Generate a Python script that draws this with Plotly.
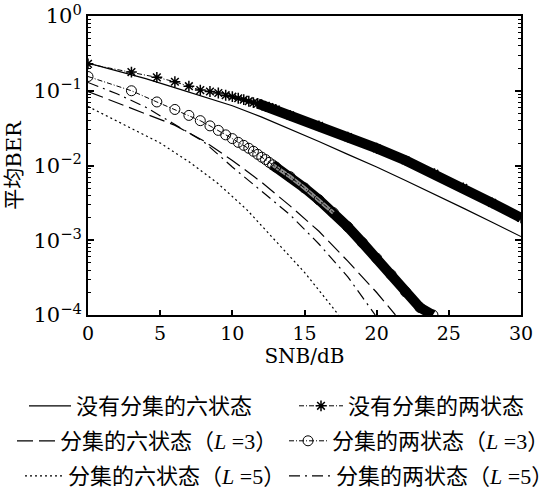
import plotly.graph_objects as go

# ---------------- data (BER vs SNR in dB) ----------------
# six-state, no diversity (solid)
six_nodiv_x = [0, 2, 4, 6, 8, 10, 12, 14, 16, 18, 20, 22, 24, 26, 28, 30]
six_nodiv = [0.234, 0.186, 0.145, 0.110, 0.0832, 0.0631, 0.0447, 0.0309, 0.0209,
             0.0141, 0.00955, 0.00631, 0.00417, 0.00269, 0.00174, 0.00112]

# two-state, no diversity (asterisk markers)
two_nodiv_x = [0, 3.01, 4.77, 6.02, 6.99, 7.78, 8.45, 9.03, 9.54, 10.0, 10.41, 10.79,
               11.14, 11.46, 11.76, 12.04, 12.30, 12.55, 12.79, 13.01, 14, 16, 18, 20,
               22, 24, 26, 28, 30]
two_nodiv = [0.229, 0.178, 0.151, 0.132, 0.115, 0.102, 0.0977, 0.0933, 0.0871, 0.0832,
             0.0794, 0.0759, 0.0724, 0.0692, 0.0676, 0.0646, 0.0617, 0.0603, 0.0575,
             0.0562, 0.0468, 0.0339, 0.0240, 0.0170, 0.0117, 0.00776, 0.00501,
             0.00316, 0.00200]

# six-state, diversity L=3 (long dash)
six_l3_x = [0, 2, 4, 6, 8, 10, 12, 14, 16, 18, 20, 21.3]
six_l3 = [0.0977, 0.0692, 0.0501, 0.0347, 0.0214, 0.0117, 0.00603, 0.00288,
          0.00132, 0.000525, 0.000200, 0.0001]

# two-state, diversity L=3 (circle markers)
two_l3_x = [0, 3.01, 4.77, 6.02, 6.99, 7.78, 8.45, 9.03, 9.54, 10.0, 10.41, 10.79,
            11.14, 11.46, 11.76, 12.04, 12.30, 12.55, 12.79, 13.01, 14, 15, 16, 17,
            18, 19, 20, 21, 22, 23, 23.9]
two_l3 = [0.155, 0.100, 0.0708, 0.0562, 0.0468, 0.0398, 0.0339, 0.0295, 0.0257,
          0.0229, 0.0204, 0.0186, 0.0170, 0.0155, 0.0141, 0.0129, 0.0120, 0.0110,
          0.0102, 0.00955, 0.00708, 0.00501, 0.00347, 0.00234, 0.00151, 0.000933,
          0.000575, 0.000347, 0.000204, 0.000126, 0.0001]

# six-state, diversity L=5 (dotted)
six_l5_x = [0, 3, 5, 7, 9, 11, 13, 15, 17, 17.35]
six_l5 = [0.0617, 0.0316, 0.0200, 0.0112, 0.00575, 0.00257, 0.000977, 0.000372,
          0.000123, 0.0001]

# two-state, diversity L=5 (dash-dot)
two_l5_x = [0, 2, 4, 6, 8, 10, 12, 14, 16, 18, 19.9]
two_l5 = [0.129, 0.0912, 0.0603, 0.0355, 0.0209, 0.00955, 0.00457, 0.00219,
          0.000891, 0.000324, 0.0001]

names = [
    "没有分集的六状态",
    "没有分集的两状态",
    "分集的六状态（<i>L</i> =3）",
    "分集的两状态（<i>L</i> =3）",
    "分集的六状态（<i>L</i> =5）",
    "分集的两状态（<i>L</i> =5）",
]

x_ticks = [0, 5, 10, 15, 20, 25, 30]
y_ticks = [1e-4, 1e-3, 1e-2, 1e-1, 1]
y_ticktext = ["10<sup>−4</sup>", "10<sup>−3</sup>", "10<sup>−2</sup>",
              "10<sup>−1</sup>", "10<sup>0</sup>"]

STAR_BAND_FROM = 14   # index where asterisks merge into a solid band
CIRC_BAND_FROM = 18
CIRC_LIGHT_TO = 24

BLACK = "black"
SERIF = "DejaVu Serif, Noto Sans CJK SC"
LEG_FONT = "Liberation Serif, Noto Sans CJK SC"

# plot-area geometry in page px: x 88..521, y 16..315
W, H = 555, 496
L_M, T_M = 88, 16
PW, PH = 521 - 88, 315 - 16
R_M, B_M = W - L_M - PW, H - T_M - PH


def px_x(px):
    return (px - L_M) / PW


def px_y(py):
    return (T_M + PH - py) / PH


fig = go.Figure()

# dense marker bands (markers overlapping into a solid band)
fig.add_trace(go.Scatter(x=two_nodiv_x[STAR_BAND_FROM:], y=two_nodiv[STAR_BAND_FROM:],
                         mode="lines", line=dict(color=BLACK, width=10),
                         showlegend=False, hoverinfo="skip"))
fig.add_trace(go.Scatter(x=two_l3_x[CIRC_BAND_FROM:], y=two_l3[CIRC_BAND_FROM:],
                         mode="lines", line=dict(color=BLACK, width=10),
                         showlegend=False, hoverinfo="skip"))
fig.add_trace(go.Scatter(x=two_l3_x[CIRC_BAND_FROM:CIRC_LIGHT_TO],
                         y=two_l3[CIRC_BAND_FROM:CIRC_LIGHT_TO],
                         mode="lines", line=dict(color="#8c8c8c", width=4),
                         showlegend=False, hoverinfo="skip"))

styles = [
    dict(x=six_nodiv_x, y=six_nodiv, mode="lines",
         line=dict(color=BLACK, width=1.2)),
    dict(x=two_nodiv_x, y=two_nodiv, mode="lines+markers",
         line=dict(color=BLACK, width=1, dash="5px,2px,1px,2px"),
         marker=dict(symbol="asterisk-open", size=9, line=dict(color=BLACK, width=1.5))),
    dict(x=six_l3_x, y=six_l3, mode="lines",
         line=dict(color=BLACK, width=1.2, dash="16px,6px")),
    dict(x=two_l3_x, y=two_l3, mode="lines+markers",
         line=dict(color=BLACK, width=1, dash="5px,2px,1px,2px"),
         marker=dict(symbol="circle-open", size=10, line=dict(color=BLACK, width=1))),
    dict(x=six_l5_x, y=six_l5, mode="lines",
         line=dict(color=BLACK, width=1.2, dash="2px,3px")),
    dict(x=two_l5_x, y=two_l5, mode="lines",
         line=dict(color=BLACK, width=1.2, dash="11px,5px,2px,5px")),
]

# legend placement in page px: (left, row centre, symbol width)
leg_pos = [(24, 406, 42), (294, 406, 44),
           (12, 441, 38), (284, 441, 38),
           (20, 476, 38), (284, 476, 42)]

layout_legends = {}
for i, (st, nm, (lx, ly, iw)) in enumerate(zip(styles, names, leg_pos)):
    key = "legend" if i == 0 else f"legend{i + 1}"
    fig.add_trace(go.Scatter(name=nm, legend=key, **st))
    layout_legends[key] = dict(
        x=px_x(lx), y=px_y(ly), xanchor="left", yanchor="middle",
        orientation="v", itemwidth=iw, bgcolor="rgba(0,0,0,0)",
        font=dict(family=LEG_FONT, size=22, color=BLACK))

fig.update_layout(
    width=W, height=H,
    margin=dict(l=L_M, r=R_M, t=T_M, b=B_M, autoexpand=False),
    paper_bgcolor="white", plot_bgcolor="white",
    font=dict(family=SERIF, color=BLACK),
    xaxis=dict(range=[0, 30], tickvals=x_ticks, ticks="inside", ticklen=5,
               tickwidth=1.5, tickcolor=BLACK, showline=True, linewidth=2,
               linecolor=BLACK, mirror=True, showgrid=False, zeroline=False,
               ticklabeloverflow="allow",
               tickfont=dict(family=SERIF, size=19, color=BLACK),
               title=dict(text="SNB/dB", font=dict(family=SERIF, size=20, color=BLACK),
                          standoff=4)),
    yaxis=dict(type="log", range=[-4, 0], tickvals=y_ticks, ticktext=y_ticktext,
               ticks="inside", ticklen=6, tickwidth=1.5, tickcolor=BLACK,
               showline=True, linewidth=2, linecolor=BLACK, mirror="ticks",
               showgrid=False, zeroline=False, ticklabeloverflow="allow",
               minor=dict(ticks="inside", ticklen=3, tickwidth=1, tickcolor=BLACK,
                          tickvals=[m * 10 ** e for e in range(-4, 0) for m in range(2, 10)],
                          showgrid=False),
               tickfont=dict(family=SERIF, size=21, color=BLACK),
               title=dict(text="平均BER", font=dict(family=SERIF, size=21, color=BLACK),
                          standoff=6)),
    **layout_legends,
)

# remove the browser's default page margin so the figure sits at the page origin
fig.write_html("out.html", config={"displayModeBar": False},
               post_script="document.body.style.margin='0px';")
